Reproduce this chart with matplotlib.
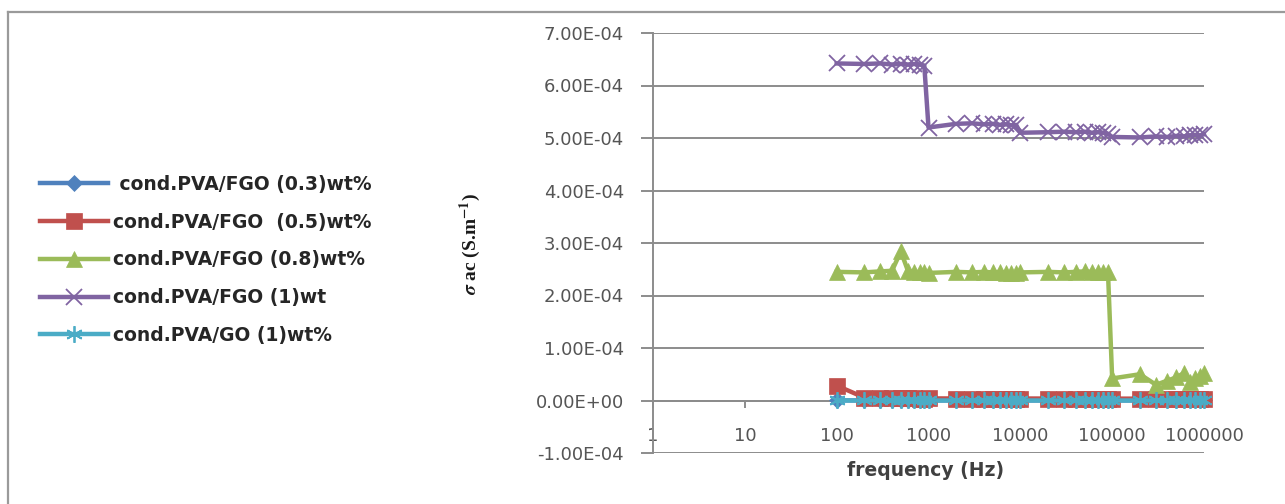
import matplotlib
matplotlib.use("Agg")
import matplotlib.pyplot as plt
from matplotlib.lines import Line2D
from matplotlib.ticker import FixedLocator, NullLocator, FuncFormatter

# Frequency sweep (Hz)
freq_hz = [100, 200, 300, 400, 500, 600, 700, 800, 900,
           1000, 2000, 3000, 4000, 5000, 6000, 7000, 8000, 9000,
           10000, 20000, 30000, 40000, 50000, 60000, 70000, 80000, 90000,
           100000, 200000, 300000, 400000, 500000, 600000, 700000, 800000, 900000,
           1000000]

# AC conductivity (S/m)
fgo_03 = [0.02e-5, 0.01e-5, 0.01e-5, 0.01e-5, 0.01e-5, 0.01e-5, 0.01e-5, 0.01e-5, 0.01e-5,
          0.01e-5, 0.01e-5, 0.01e-5, 0.01e-5, 0.01e-5, 0.01e-5, 0.01e-5, 0.01e-5, 0.01e-5,
          0.01e-5, 0.01e-5, 0.01e-5, 0.01e-5, 0.01e-5, 0.01e-5, 0.01e-5, 0.01e-5, 0.01e-5,
          0.01e-5, 0.01e-5, 0.01e-5, 0.01e-5, 0.01e-5, 0.01e-5, 0.01e-5, 0.01e-5, 0.01e-5,
          0.01e-5]
fgo_05 = [2.85e-5, 0.55e-5, 0.45e-5, 0.42e-5, 0.40e-5, 0.40e-5, 0.40e-5, 0.38e-5, 0.38e-5,
          0.40e-5, 0.38e-5, 0.38e-5, 0.37e-5, 0.37e-5, 0.36e-5, 0.36e-5, 0.36e-5, 0.35e-5,
          0.38e-5, 0.37e-5, 0.36e-5, 0.36e-5, 0.35e-5, 0.35e-5, 0.35e-5, 0.34e-5, 0.34e-5,
          0.36e-5, 0.35e-5, 0.34e-5, 0.33e-5, 0.33e-5, 0.32e-5, 0.32e-5, 0.31e-5, 0.31e-5,
          0.30e-5]
fgo_08 = [2.45e-4, 2.44e-4, 2.46e-4, 2.47e-4, 2.84e-4, 2.46e-4, 2.45e-4, 2.44e-4, 2.45e-4,
          2.43e-4, 2.45e-4, 2.44e-4, 2.45e-4, 2.44e-4, 2.45e-4, 2.43e-4, 2.42e-4, 2.43e-4,
          2.44e-4, 2.45e-4, 2.44e-4, 2.45e-4, 2.46e-4, 2.45e-4, 2.45e-4, 2.44e-4, 2.45e-4,
          0.42e-4, 0.50e-4, 0.30e-4, 0.38e-4, 0.44e-4, 0.52e-4, 0.36e-4, 0.42e-4, 0.47e-4,
          0.52e-4]
fgo_1 = [6.42e-4, 6.41e-4, 6.42e-4, 6.40e-4, 6.41e-4, 6.40e-4, 6.41e-4, 6.40e-4, 6.38e-4,
         5.20e-4, 5.27e-4, 5.28e-4, 5.26e-4, 5.27e-4, 5.25e-4, 5.26e-4, 5.24e-4, 5.25e-4,
         5.10e-4, 5.11e-4, 5.12e-4, 5.11e-4, 5.12e-4, 5.10e-4, 5.11e-4, 5.10e-4, 5.08e-4,
         5.02e-4, 5.01e-4, 5.03e-4, 5.02e-4, 5.04e-4, 5.03e-4, 5.05e-4, 5.06e-4, 5.05e-4,
         5.07e-4]
go_1 = [0.002e-5, 0.001e-5, 0.001e-5, 0.001e-5, 0.001e-5, 0.001e-5, 0.001e-5, 0.001e-5, 0.001e-5,
        0.001e-5, 0.001e-5, 0.001e-5, 0.001e-5, 0.001e-5, 0.001e-5, 0.001e-5, 0.001e-5, 0.001e-5,
        0.001e-5, 0.001e-5, 0.001e-5, 0.001e-5, 0.001e-5, 0.001e-5, 0.001e-5, 0.001e-5, 0.001e-5,
        0.001e-5, 0.001e-5, 0.001e-5, 0.001e-5, 0.001e-5, 0.001e-5, 0.001e-5, 0.001e-5, 0.001e-5,
        0.001e-5]

series_labels = [" cond.PVA/FGO (0.3)wt%", "cond.PVA/FGO  (0.5)wt%", "cond.PVA/FGO (0.8)wt%",
                 "cond.PVA/FGO (1)wt", "cond.PVA/GO (1)wt%"]
x_tick_values = [1, 10, 100, 1000, 10000, 100000, 1000000]
y_tick_values = [-1e-4, 0, 1e-4, 2e-4, 3e-4, 4e-4, 5e-4, 6e-4, 7e-4]

colors = ["#4F81BD", "#C0504D", "#9BBB59", "#8064A2", "#4BACC6"]
styles = [
    dict(marker="D", ms=8, mew=0.5),
    dict(marker="s", ms=11, mew=0.5),
    dict(marker="^", ms=11, mew=0.5),
    dict(marker="x", ms=12, mew=1.3),
    dict(marker=(6, 2, 0), ms=12, mew=1.3),
]

plt.rcParams["font.family"] = ["DejaVu Sans"]
plt.rcParams["mathtext.fontset"] = "stix"

W, H = 1285, 504
fig = plt.figure(figsize=(W / 100, H / 100), dpi=100)

# chart frame (left and top edges)
fig.add_artist(Line2D([8 / W, 8 / W], [0, 1 - 12 / H], transform=fig.transFigure,
                      color="#9a9a9a", lw=1.6))
fig.add_artist(Line2D([8 / W, 1], [1 - 12 / H, 1 - 12 / H], transform=fig.transFigure,
                      color="#9a9a9a", lw=1.6))

left, right, top, bottom = 653, 1204, 33, 453
ax = fig.add_axes([left / W, 1 - bottom / H, (right - left) / W, (bottom - top) / H])

all_series = [fgo_03, fgo_05, fgo_08, fgo_1, go_1]
handles = []
for vals, col, st, lab in zip(all_series, colors, styles, series_labels):
    h, = ax.plot(freq_hz, vals, color=col, lw=3.2, mfc=col, mec=col,
                 label=lab, zorder=3, clip_on=False,
                 solid_joinstyle="round", **st)
    handles.append(h)

ax.set_xscale("log")
ax.set_xlim(1, 1e6)
ax.set_ylim(-1e-4, 7e-4)


def sci_label(v, pos):
    if abs(v) < 1e-12:
        return "0.00E+00"
    mant, exp = f"{v:.2E}".split("E")
    return f"{mant}E{int(exp):+03d}"


grid_col = "#8c8c8c"
ax.yaxis.set_major_locator(FixedLocator(y_tick_values))
ax.yaxis.set_major_formatter(FuncFormatter(sci_label))
ax.yaxis.grid(True, color=grid_col, lw=1.4)
ax.set_axisbelow(True)

ax.xaxis.set_major_locator(FixedLocator(x_tick_values))
ax.xaxis.set_minor_locator(NullLocator())
ax.xaxis.set_major_formatter(FuncFormatter(lambda v, p: f"{int(round(v))}"))

for s in ["top", "right"]:
    ax.spines[s].set_visible(False)
ax.spines["bottom"].set_position(("data", 0))
ax.spines["bottom"].set_color(grid_col)
ax.spines["bottom"].set_linewidth(1.4)
ax.spines["bottom"].set_zorder(1)
ax.spines["left"].set_color(grid_col)
ax.spines["left"].set_linewidth(1.4)

ax.tick_params(axis="y", direction="out", length=9, width=1.4, color=grid_col,
               pad=12, labelsize=13, labelcolor="#555555")
ax.tick_params(axis="x", direction="out", length=5, width=1.4, color=grid_col,
               pad=14, labelsize=13, labelcolor="#555555")

# axis titles
fig.text(926 / W, 1 - 470 / H, "frequency (Hz)", ha="center", va="center",
         fontsize=13.5, fontweight="bold", color="#404040")
fig.text(470 / W, 1 - 244 / H, r"$\boldsymbol{\sigma}$ ac (S.m$^{\mathbf{-1}}$)",
         ha="center", va="center", rotation=90, fontsize=14, fontweight="bold",
         family="Liberation Serif", color="#1a1a1a")

leg = fig.legend(handles=handles, labels=series_labels, loc="center left",
                 bbox_to_anchor=(40 / W, 1 - 260 / H), frameon=False,
                 borderpad=0, borderaxespad=0, handlelength=3.6, handletextpad=0.3,
                 labelspacing=1.0, prop=dict(size=13.5, weight="bold"))
for t in leg.get_texts():
    t.set_color("#262626")

fig.savefig("out.png", dpi=100)
